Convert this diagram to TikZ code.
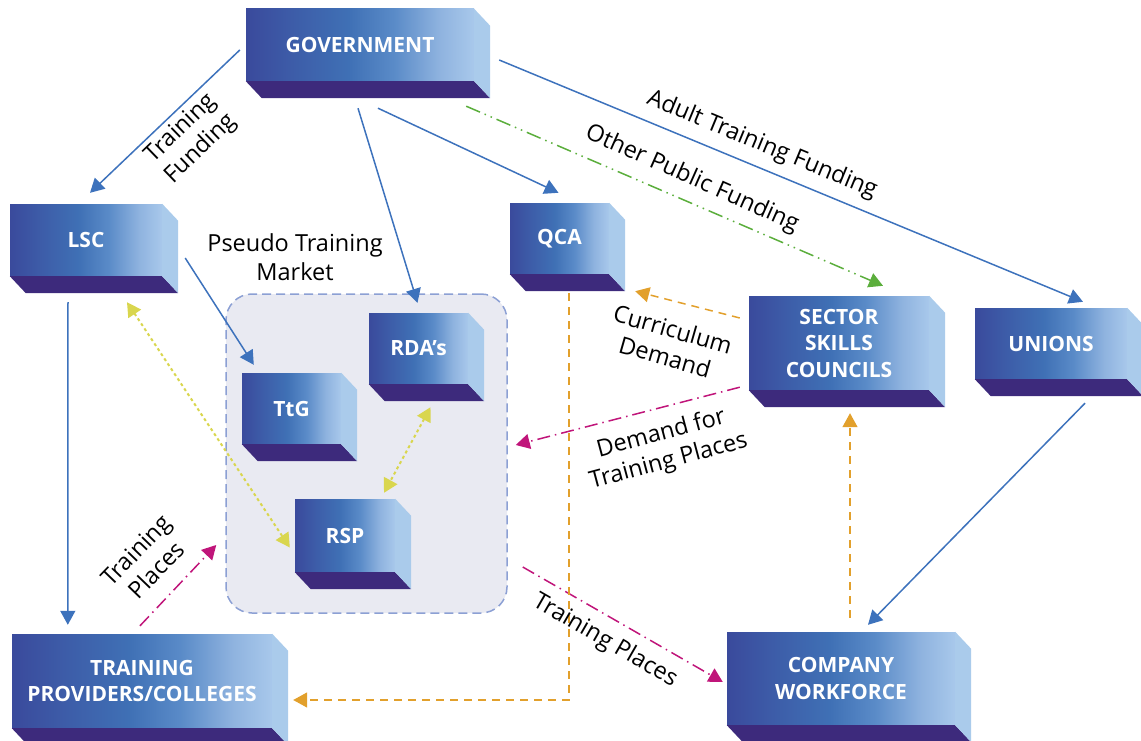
\documentclass[tikz,border=0pt]{standalone}
\usepackage{fontspec}
\setmainfont{Open Sans}
\usetikzlibrary{arrows.meta,calc}

\definecolor{boxdark}{HTML}{3A4A9C}
\definecolor{boxdeep}{HTML}{3D5CA8}
\definecolor{boxmid}{HTML}{3F70B5}
\definecolor{boxsoft}{HTML}{5A8BC8}
\definecolor{boxpale}{HTML}{8FB3DF}
\definecolor{boxlight}{HTML}{A8C8EB}
\definecolor{boxside}{HTML}{AACBEB}
\definecolor{boxbase}{HTML}{3D2A7C}
\definecolor{flowblue}{HTML}{3D72BC}
\definecolor{flowgreen}{HTML}{5BAE3C}
\definecolor{flowmag}{HTML}{C0157A}
\definecolor{floworange}{HTML}{E2A02C}
\definecolor{flowyellow}{HTML}{D9D64E}
\definecolor{marketfill}{HTML}{E9EAF2}
\definecolor{marketline}{HTML}{8CA0D4}

% front face: dark blue on the left, pale blue on the right
\pgfdeclarehorizontalshading{blockshade}{100bp}{%
  color(0bp)=(boxdark); color(25bp)=(boxdark); color(35bp)=(boxdeep);
  color(47.5bp)=(boxmid); color(57.5bp)=(boxsoft); color(67.5bp)=(boxpale);
  color(75bp)=(boxlight); color(100bp)=(boxlight)}

\tikzset{
  blockface/.style={rectangle, inner sep=0pt, shading=blockshade,
    text=white, align=center, font=\fontsize{21}{26.5}\selectfont\bfseries},
  flowlabel/.style={inner sep=0pt, align=center, text=black,
    font=\fontsize{23.5}{28.5}\selectfont},
  tipbig/.style={-{Triangle[length=14pt,width=15pt]}},
  fund/.style={draw=flowblue, line width=1.5pt, tipbig, color=flowblue},
  publicfund/.style={draw=flowgreen, line width=1.5pt, tipbig, color=flowgreen,
    dash pattern=on 15pt off 5pt on 1.5pt off 5pt on 1.5pt off 5pt},
  places/.style={draw=flowmag, line width=1.5pt, tipbig, color=flowmag,
    dash pattern=on 13pt off 5pt on 1.5pt off 5pt},
  demand/.style={draw=floworange, line width=1.5pt, tipbig, color=floworange,
    dash pattern=on 8pt off 6pt},
  liaison/.style={draw=flowyellow, line width=2pt, color=flowyellow,
    {Triangle[length=14pt,width=15pt]}-{Triangle[length=14pt,width=15pt]},
    dash pattern=on 3pt off 3pt},
}

% a box seen slightly from below right: front face node, base and side faces
\newcommand\depthbox[6]{%
  \node[blockface, minimum width=#4pt, minimum height=#5pt] (#1) at (#2,#3) {#6};
  \fill[boxbase] (#1.south west) -- (#1.south east) -- ++(16,17)
    -- ($(#1.south west)+(16,17)$) -- cycle;
  \fill[boxside] (#1.north east) -- ++(16,17) -- ($(#1.south east)+(16,17)$)
    -- (#1.south east) -- cycle;
}

\begin{document}
\begin{tikzpicture}[x=1pt, y=-1pt]
\useasboundingbox (0,0) rectangle (1141,741);

% pseudo training market area
\node[draw=marketline, fill=marketfill, rounded corners=26pt, line width=1.5pt,
  dash pattern=on 9pt off 5pt, minimum width=281pt, minimum height=319pt]
  (market) at (366.5,453.5) {};
\node[flowlabel] (marketlabel) at (295,257) {Pseudo Training\\Market};

% organisations
\depthbox{gov}{360}{45}{228}{72}{GOVERNMENT}
\depthbox{lsc}{86}{240}{152}{72}{LSC}
\depthbox{qca}{559.5}{238.5}{99}{71}{QCA}
\depthbox{ssc}{839}{343}{180}{94}{SECTOR\\SKILLS\\COUNCILS}
\depthbox{uni}{1051}{343.5}{152}{71}{UNIONS}
\depthbox{rda}{418.5}{348.5}{99}{71}{RDA’s}
\depthbox{ttg}{291.5}{408.5}{99}{71}{TtG}
\depthbox{rsp}{345}{535.5}{100}{73}{RSP}
\depthbox{tpc}{142}{681}{260}{94}{TRAINING\\PROVIDERS/COLLEGES}
\depthbox{cwf}{841}{678.5}{228}{93}{COMPANY\\WORKFORCE}

% funding flows
\draw[fund] ($(gov.west)+(-6,5)$) -- ($(lsc.north)+(4,-11)$);
\draw[fund] ($(gov.south)+(-2,27)$) -- ($(rda.north)+(-1,-10)$);
\draw[fund] ($(gov.south)+(18,27)$) -- ($(qca.north)+(-1,-10)$);
\draw[publicfund] ($(gov.south east)+(-8,25)$) -- ($(ssc.north)+(44,-10)$);
\draw[fund] ($(gov.east)+(25,15)$) -- ($(uni.north)+(32,-6)$);
\draw[fund] ($(lsc.south)+(-18,26)$) -- ($(tpc.north west)+(56,-9)$);
\draw[fund] ($(lsc.east)+(23,18)$) -- ($(ttg.north west)+(12,-8)$);
\draw[fund] ($(uni.south)+(34,24)$) -- ($(cwf.north)+(27,-7)$);

% links inside the market
\draw[liaison] ($(lsc.south)+(41,26)$) -- ($(rsp.west)+(-5,12)$);
\draw[liaison] ($(rda.south)+(12,23)$) -- ($(rsp.north)+(39,-6)$);

% training places
\draw[places] ($(tpc.north)+(-2,-8)$) -- ($(market.west)+(-9,91.5)$);
\draw[places] ($(market.east)+(15,113.5)$) -- ($(cwf.west)+(-4,3.5)$);
\draw[places] ($(ssc.south west)+(-9,-3)$) -- ($(market.east)+(8,-8.5)$);

% demand
\draw[demand] ($(ssc.west)+(-9,-25)$) -- ($(qca.south east)+(26,17)$);
\draw[demand] ($(qca.south)+(9.5,19)$) |- ($(tpc.east)+(21,19)$);
\draw[demand] ($(cwf.north)+(9,-14)$) -- ($(ssc.south)+(11,23)$);

% flow labels
\node[flowlabel, rotate=44] (lblfund) at (191,139) {Training\\Funding};
\node[flowlabel, rotate=-22.5] (lbladult) at (762,145) {Adult Training Funding};
\node[flowlabel, rotate=-24] (lblpublic) at (692,179) {Other Public Funding};
\node[flowlabel, rotate=-16] (lblcurr) at (669,343) {Curriculum\\Demand};
\node[flowlabel, rotate=15] (lbldemand) at (665,448) {Demand for\\Training Places};
\node[flowlabel, rotate=46] (lblplacesA) at (146,560) {Training\\Places};
\node[flowlabel, rotate=-30] (lblplacesB) at (605,641) {Training Places};
\end{tikzpicture}
\end{document}
